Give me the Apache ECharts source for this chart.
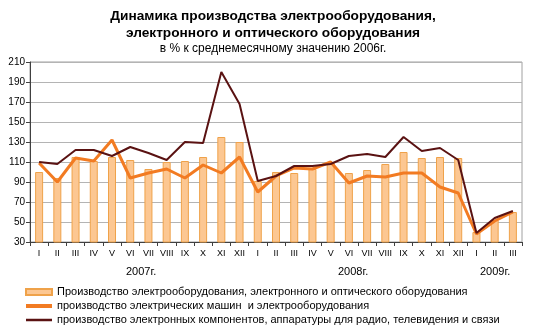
<!DOCTYPE html>
<html>
<head>
<meta charset="utf-8">
<script src="https://cdn.jsdelivr.net/npm/echarts@6/dist/echarts.min.js"></script>
<style>html,body{margin:0;padding:0;background:#fff;}#c{width:534px;height:332px;}</style>
</head>
<body>
<div id="c"></div>
<script>
var categories = ['I','II','III','IV','V','VI','VII','VIII','IX','X','XI','XII',
                  'I','II','III','IV','V','VI','VII','VIII','IX','X','XI','XII',
                  'I','II','III'];
var yearLabels = ['2007г.','2008г.','2009г.'];
var nameBars = 'Производство электрооборудования, электронного и оптического оборудования';
var nameMach = 'производство электрических машин  и электрооборудования';
var nameComp = 'производство электронных компонентов, аппаратуры для радио, телевидения и связи';
var barValues = [100,94,115,111,115,112,103,110,111,115,135,130,
                 91,100,99,103,110,99,102,108,120,114,115,114,
                 40,52,60];
var machValues = [109,90,114,111,132,94,99,103,94,107,99,115,
                  80,96,104,103,110,89,96,95,99,99,85,79,
                  38,51,60];
var compValues = [110,108,122,122,116,125,119,112,130,129,200,168,
                  91,96,106,106,108,116,118,115,135,121,124,112,
                  39,54,61];

var font = 'Liberation Sans, Arial, sans-serif';
var chart = echarts.init(document.getElementById('c'), null, {renderer:'canvas'});
chart.setOption({
  animation: false,
  backgroundColor: '#fff',
  title: {
    text: 'Динамика производства электрооборудования,\nэлектронного и оптического оборудования',
    subtext: 'в % к среднемесячному значению 2006г.',
    left: 268, top: 3, textAlign: 'center', itemGap: 0,
    textStyle: {fontFamily: font, fontSize: 13.7, fontWeight: 'bold', color: '#000', lineHeight: 17},
    subtextStyle: {fontFamily: font, fontSize: 12, color: '#000', lineHeight: 14}
  },
  grid: {left: 30, right: 12, top: 62, bottom: 90, show: true, borderColor: '#a0a0a0', borderWidth: 1},
  legend: {
    orient: 'vertical', left: 20, top: 281, itemWidth: 26, itemHeight: 6, itemGap: 2,
    height: 48, symbolKeepAspect: true,
    textStyle: {fontFamily: font, fontSize: 11, color: '#000', lineHeight: 12},
    data: [
      {name: nameBars, icon: 'rect'},
      {name: nameMach, icon: 'path://M0,0H26V4H0Z'},
      {name: nameComp, icon: 'path://M0,0H26V2.5H0Z'}
    ]
  },
  xAxis: {
    type: 'category', data: categories, boundaryGap: true,
    axisLine: {lineStyle: {color: '#404040', width: 1}},
    axisTick: {show: true, length: 4, interval: 0, lineStyle: {color: '#404040'}},
    axisLabel: {interval: 0, fontFamily: font, fontSize: 9, color: '#000', margin: 7}
  },
  yAxis: {
    type: 'value', min: 30, max: 210, interval: 20,
    axisLine: {show: true, lineStyle: {color: '#404040', width: 1}},
    axisTick: {show: true, length: 4, lineStyle: {color: '#404040'}},
    axisLabel: {fontFamily: font, fontSize: 10, color: '#000', margin: 5},
    splitLine: {lineStyle: {color: '#b4b4b4', width: 1}}
  },
  graphic: [
    {type: 'text', left: 126, top: 266, style: {text: yearLabels[0], font: '11px ' + font, fill: '#000'}},
    {type: 'text', left: 338, top: 266, style: {text: yearLabels[1], font: '11px ' + font, fill: '#000'}},
    {type: 'text', left: 480, top: 266, style: {text: yearLabels[2], font: '11px ' + font, fill: '#000'}}
  ],
  series: [
    {name: nameBars, type: 'bar', data: barValues, barWidth: 8,
     itemStyle: {color: '#FCC792', borderColor: '#EFA24A', borderWidth: 1}},
    {name: nameMach, type: 'line', data: machValues, symbol: 'none',
     lineStyle: {color: '#F27B22', width: 3}, itemStyle: {color: '#F27B22'}},
    {name: nameComp, type: 'line', data: compValues, symbol: 'none',
     lineStyle: {color: '#5A1212', width: 2}, itemStyle: {color: '#5A1212'}}
  ]
});
</script>
</body>
</html>
